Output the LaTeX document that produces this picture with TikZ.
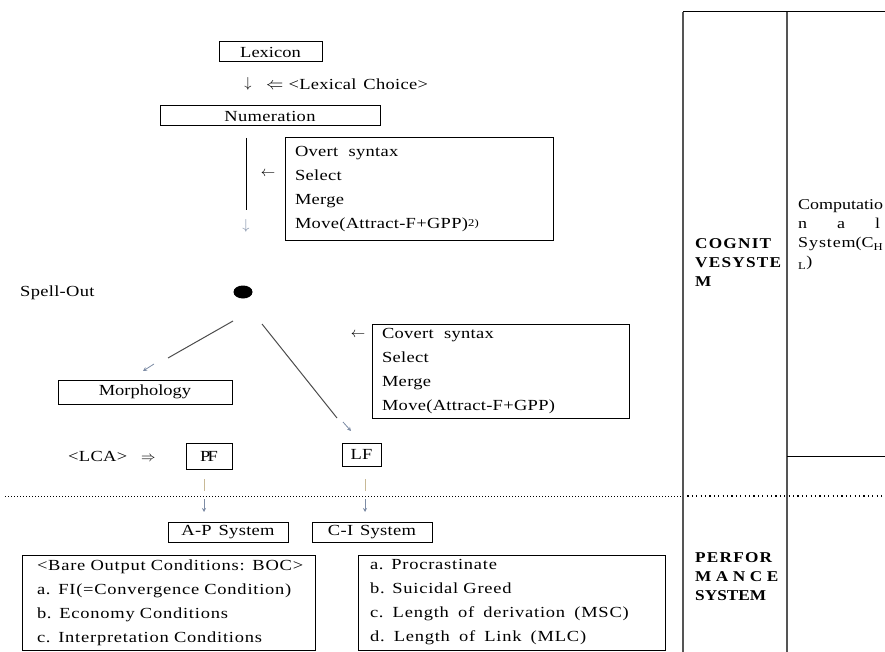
\documentclass[tikz,border=0pt]{standalone}
\usepackage{fontspec}
\setmainfont{Liberation Serif}[FakeStretch=1.2]
\newfontfamily\tabfont{Liberation Serif}[FakeStretch=1.15,LetterSpace=8]
\newfontfamily\upfont{Liberation Serif}[FakeStretch=1.2,LetterSpace=2,WordSpace=1.4]
\newfontfamily\lowfont{Liberation Serif}[FakeStretch=1.2,LetterSpace=5,WordSpace=1.6]
\usetikzlibrary{shapes.geometric,arrows.meta}
\definecolor{arrgray}{RGB}{125,140,165}
\definecolor{lightln}{RGB}{200,185,150}
\definecolor{tabln}{RGB}{85,85,85}
\newcommand\fsz{\fontsize{15.4}{24}\selectfont}
\newcommand\ws{\ \hspace{4pt}}
\begin{document}
\begin{tikzpicture}[x=1pt,y=-1pt,
  every node/.style={font=\fsz, inner sep=0pt},
  box/.style={draw, line width=1pt},
  listbox/.style={draw, line width=1pt, align=left, anchor=center},
  conn/.style={draw=black!70, line width=1pt},
  smallarr/.style={draw=arrgray, line width=0.8pt, -{Stealth[length=4pt,width=4pt]}},
  glyph/.style={text=arrgray},
  tabtext/.style={font=\tabfont\bfseries\fontsize{15}{19}\selectfont, align=left, anchor=west},
]
\useasboundingbox (0,0) rectangle (885,652);
\clip (0,0) rectangle (885,652);

% top part
\node[box, minimum width=103pt, minimum height=20pt] (lex) at (270.5,52) {Lexicon};
\node (lexdown) at (248,84) {$\downarrow$};
\node[anchor=west] (lexchoice) at (266,84) {\fontsize{17}{20}\selectfont$\Leftarrow$\ \fsz\upfont<Lexical Choice>};
\node[box, minimum width=220pt, minimum height=20pt] (num) at (270,116) {\upfont Numeration};

\coordinate (n1) at (246,138);
\coordinate (n2) at (246,210);
\draw[line width=1pt] (n1) -- (n2);
\node[glyph] (ndown) at (246,226) {$\downarrow$};
\node (overtarr) at (268,174) {$\leftarrow$};

\node[listbox, text width=248pt, inner xsep=10pt, minimum height=102pt, font=\fsz\upfont] (overt) at (419,189)
  {Overt\ \ syntax\\Select\\Merge\\Move(Attract-F+GPP)\raisebox{2pt}{\fontsize{10.5}{10}\selectfont 2)}};

% spell-out
\node[anchor=west] (spell) at (20,293) {\upfont Spell-Out};
\node[ellipse, fill=black, minimum width=19pt, minimum height=13pt] (dot) at (243,292) {};

\coordinate (mA) at (233,321);
\coordinate (mB) at (168,358);
\draw[conn] (mA) -- (mB);
\coordinate (ma1) at (154,364);
\coordinate (ma2) at (143,371);
\draw[smallarr] (ma1) -- (ma2);

\coordinate (lA) at (262,324);
\coordinate (lB) at (337,418);
\draw[conn] (lA) -- (lB);
\coordinate (la1) at (343,422);
\coordinate (la2) at (351,431);
\draw[smallarr] (la1) -- (la2);

\node[box, minimum width=174pt, minimum height=24pt] (morph) at (145,392) {Morphology};
\node (covarr) at (358,335) {$\leftarrow$};
\node[listbox, text width=237pt, inner xsep=10pt, minimum height=94pt, font=\fsz\upfont] (covert) at (500.5,371)
  {Covert\ \ syntax\\Select\\Merge\\Move(Attract-F+GPP)};

% PF / LF
\node[anchor=west] (lca) at (68,456) {\upfont<LCA>\ \ $\Rightarrow$};
\node[box, minimum width=46pt, minimum height=26pt] (pf) at (209,456) {P\kern-3pt F};
\node[box, minimum width=39pt, minimum height=23pt] (lf) at (361.5,454.5) {LF};

\coordinate (p1) at (204,479);
\coordinate (p2) at (204,491);
\draw[lightln, line width=1pt] (p1) -- (p2);
\coordinate (p3) at (204,499);
\coordinate (p4) at (204,512);
\draw[smallarr] (p3) -- (p4);

\coordinate (q1) at (365,479);
\coordinate (q2) at (365,491);
\draw[lightln, line width=1pt] (q1) -- (q2);
\coordinate (q3) at (365,499);
\coordinate (q4) at (365,512);
\draw[smallarr] (q3) -- (q4);

% dotted divider
\coordinate (d1) at (5,496);
\coordinate (d2) at (683,496);
\coordinate (d3) at (885,496);
\draw[dotted, line width=1pt] (d1) -- (d2);
\draw[line width=1.4pt, dash pattern=on 1.2pt off 3.2pt] (d2) -- (d3);

% lower boxes
\node[box, minimum width=120pt, minimum height=20pt] (ap) at (228,532) {\upfont A-P System};
\node[box, minimum width=120pt, minimum height=20pt] (ci) at (372,532) {\upfont C-I System};

\node[listbox, text width=263pt, inner xsep=15pt, minimum height=95pt, font=\fsz\lowfont] (boc) at (168.5,602.5)
  {<Bare Output Conditions: BOC>\\a. FI(=Convergence Condition)\\b. Economy Conditions\\c. Interpretation Conditions};
\node[listbox, text width=283pt, inner xsep=12pt, minimum height=95pt, font=\fsz\lowfont] (econ) at (511.5,602.5)
  {a. Procrastinate\\b. Suicidal Greed\\c.\ws Length\ws of\ws derivation\ws (MSC)\\d.\ws Length\ws of\ws Link\ws (MLC)};

% table on the right
\coordinate (t1) at (683,12);
\coordinate (t2) at (683,652);
\coordinate (t3) at (787,12);
\coordinate (t4) at (787,652);
\coordinate (t5) at (885,12);
\coordinate (t6) at (787,456);
\coordinate (t7) at (885,456);
\draw[tabln, line width=1.3pt] (t1) -- (t2);
\draw[tabln, line width=1.3pt] (t3) -- (t4);
\draw[black, line width=1pt] (t1) -- (t5);
\draw[black, line width=1pt] (t6) -- (t7);

\node[tabtext] (cog) at (695,263) {COGNIT\\VESYSTE\\M};
\node[tabtext] (perf) at (695,577) {PERFOR\\{\addfontfeature{LetterSpace=30}MANCE}\\{\addfontfeature{LetterSpace=0}SYSTEM}};
\node[anchor=west, align=left, font=\fontsize{15}{19}\selectfont] (comp) at (798,235)
  {Computatio\\\makebox[82pt][l]{n\hfill a\hfill l}\\{\addfontfeature{LetterSpace=6}System}(C\textsubscript{H}\\\textsubscript{L})};
\end{tikzpicture}
\end{document}
